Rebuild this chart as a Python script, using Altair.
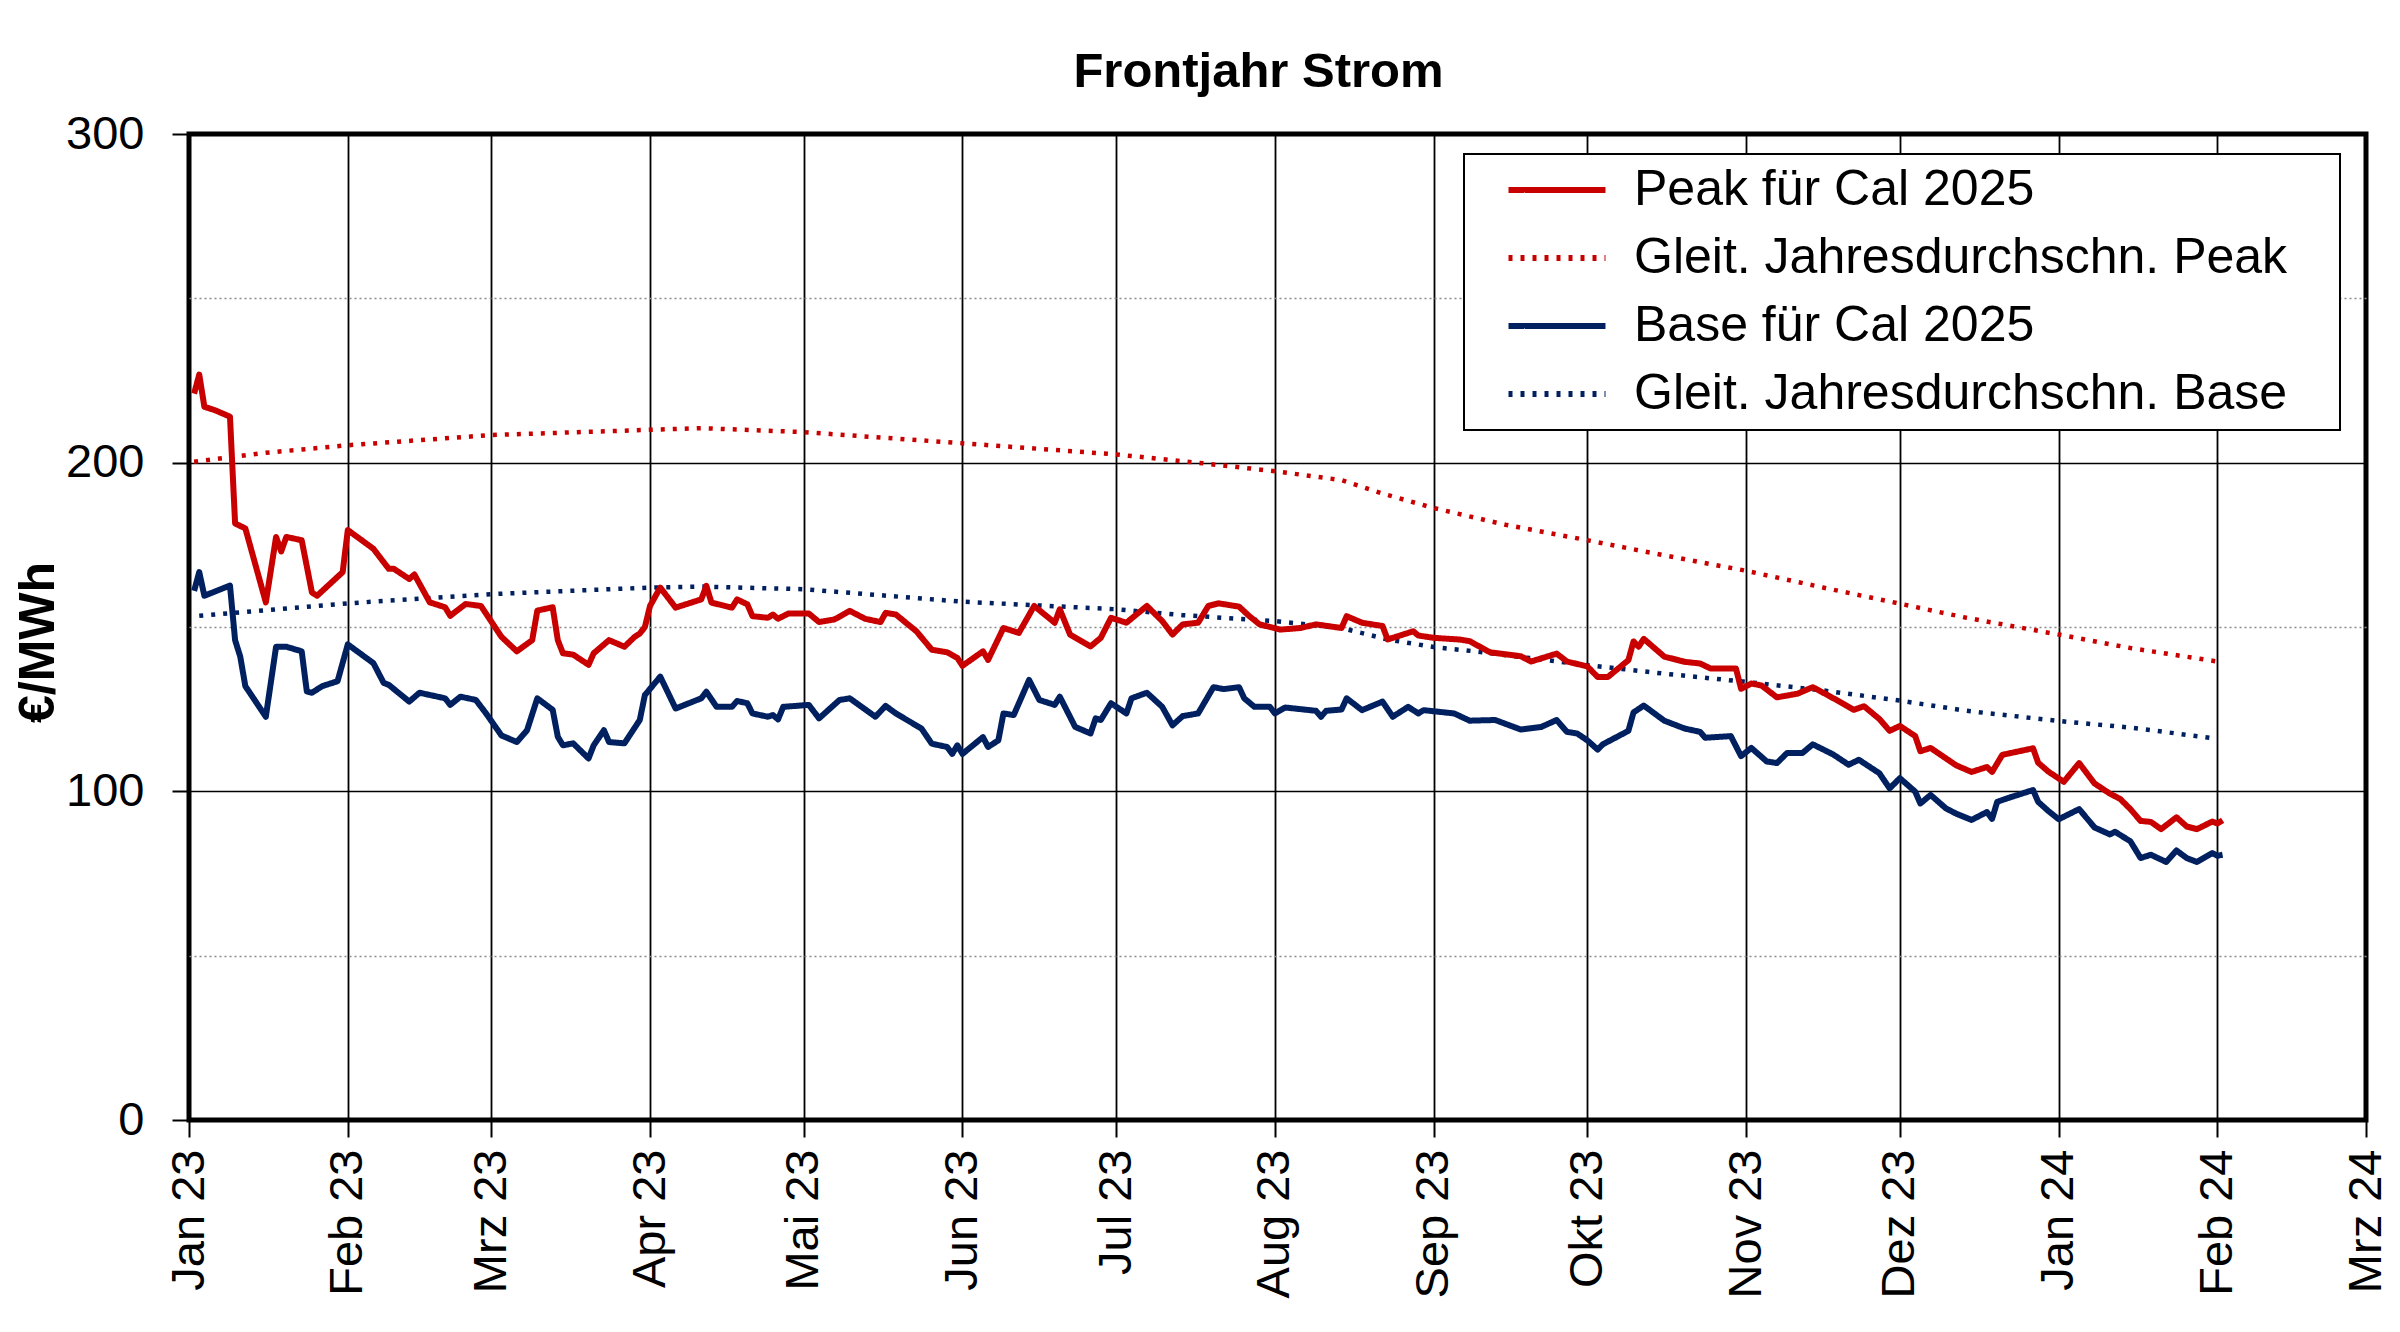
import json
import altair as alt
import pandas as pd

# ---------------- data ----------------
series_names = ["Peak für Cal 2025", "Gleit. Jahresdurchschn. Peak",
                "Base für Cal 2025", "Gleit. Jahresdurchschn. Base"]
series_colors = ["#C80000", "#C80000", "#002060", "#002060"]

month_labels = ["Jan 23", "Feb 23", "Mrz 23", "Apr 23", "Mai 23", "Jun 23", "Jul 23",
                "Aug 23", "Sep 23", "Okt 23", "Nov 23", "Dez 23", "Jan 24", "Feb 24", "Mrz 24"]
tick_years = [2023] * 12 + [2024] * 3
tick_months = list(range(1, 13)) + [1, 2, 3]

peak_dates = ["2023-01-02","2023-01-03","2023-01-04","2023-01-05","2023-01-06","2023-01-09","2023-01-10","2023-01-12",
  "2023-01-16","2023-01-18","2023-01-19","2023-01-20","2023-01-23","2023-01-25","2023-01-26","2023-01-31",
  "2023-02-01","2023-02-06","2023-02-09","2023-02-10","2023-02-13","2023-02-14","2023-02-17","2023-02-20",
  "2023-02-21","2023-02-24","2023-02-27","2023-03-03","2023-03-06","2023-03-09","2023-03-10","2023-03-13",
  "2023-03-14","2023-03-15","2023-03-17","2023-03-20","2023-03-21","2023-03-24","2023-03-27","2023-03-29",
  "2023-03-30","2023-03-31","2023-04-01","2023-04-03","2023-04-06","2023-04-11","2023-04-12","2023-04-13",
  "2023-04-17","2023-04-18","2023-04-20","2023-04-21","2023-04-24","2023-04-25","2023-04-26","2023-04-28",
  "2023-05-02","2023-05-04","2023-05-07","2023-05-10","2023-05-13","2023-05-16","2023-05-17","2023-05-19",
  "2023-05-23","2023-05-26","2023-05-29","2023-05-31","2023-06-01","2023-06-05","2023-06-06","2023-06-09",
  "2023-06-12","2023-06-15","2023-06-19","2023-06-20","2023-06-22","2023-06-26","2023-06-28","2023-06-30",
  "2023-07-03","2023-07-07","2023-07-10","2023-07-12","2023-07-14","2023-07-17","2023-07-19","2023-07-21",
  "2023-07-25","2023-07-27","2023-07-29","2023-08-02","2023-08-06","2023-08-09","2023-08-14","2023-08-15",
  "2023-08-18","2023-08-22","2023-08-23","2023-08-28","2023-08-29","2023-09-01","2023-09-06","2023-09-08",
  "2023-09-12","2023-09-18","2023-09-20","2023-09-25","2023-09-27","2023-10-01","2023-10-03","2023-10-05",
  "2023-10-09","2023-10-10","2023-10-11","2023-10-12","2023-10-16","2023-10-20","2023-10-23","2023-10-25",
  "2023-10-30","2023-10-31","2023-11-02","2023-11-04","2023-11-07","2023-11-11","2023-11-14","2023-11-17",
  "2023-11-20","2023-11-22","2023-11-24","2023-11-27","2023-11-29","2023-12-01","2023-12-04","2023-12-05",
  "2023-12-07","2023-12-12","2023-12-15","2023-12-18","2023-12-19","2023-12-21","2023-12-27","2023-12-28",
  "2023-12-30","2024-01-02","2024-01-05","2024-01-08","2024-01-11","2024-01-13","2024-01-15","2024-01-17",
  "2024-01-19","2024-01-21","2024-01-24","2024-01-26","2024-01-28","2024-01-31","2024-02-01","2024-02-02"]
peak_values = [221,226.8,217,216.5,216,214,181.5,180,
  157.5,177.4,173,177.4,176.4,160.5,159.5,166.7,
  179.5,173.8,167.7,167.7,164.6,166,157.5,156,
  153.4,157,156.4,147,142.6,146,155,156,
  146,142,141.6,138.5,142,146,144,147,
  148,150,156.4,162,155.9,158.4,162.5,157.4,
  155.9,158.4,156.9,153.3,152.8,153.8,152.5,154.1,
  154.1,151.5,152.3,154.9,152.5,151.5,154.3,153.8,
  148.7,143.1,142.3,140.6,138.2,142.6,140,149.7,
  148.2,156.4,151.3,155.4,147.7,144.1,146.7,152.8,
  151.3,156.4,151.8,147.7,150.8,151.3,156.4,157.2,
  156.2,153.3,150.8,149.2,149.7,150.8,149.7,153.3,
  151.3,150.3,146.2,148.7,147.4,146.7,146.2,145.7,
  142.3,141.1,139.5,141.9,139.5,138,134.8,134.8,
  139.9,145.6,144,146.4,141,139.4,138.9,137.4,
  137.4,131.2,132.8,132.2,128.6,129.7,131.7,129.2,
  126.6,124.8,125.9,122,118.4,119.9,116.8,112.2,
  113.2,107.9,105.9,107.4,105.9,111.1,113.1,108.7,
  106,102.9,108.6,102.4,99.3,97.7,94.6,91,
  90.7,88.5,92.1,89.3,88.5,90.8,90.2,91.2]

base_dates = ["2023-01-02","2023-01-03","2023-01-04","2023-01-08","2023-01-09","2023-01-10","2023-01-11","2023-01-12",
  "2023-01-16","2023-01-18","2023-01-20","2023-01-23","2023-01-24","2023-01-25","2023-01-27","2023-01-30",
  "2023-02-01","2023-02-06","2023-02-08","2023-02-09","2023-02-13","2023-02-15","2023-02-20","2023-02-21",
  "2023-02-23","2023-02-26","2023-02-28","2023-03-03","2023-03-06","2023-03-08","2023-03-10","2023-03-13",
  "2023-03-14","2023-03-15","2023-03-17","2023-03-20","2023-03-21","2023-03-23","2023-03-24","2023-03-27",
  "2023-03-30","2023-03-31","2023-04-03","2023-04-06","2023-04-11","2023-04-12","2023-04-14","2023-04-17",
  "2023-04-18","2023-04-20","2023-04-21","2023-04-24","2023-04-25","2023-04-26","2023-04-27","2023-05-02",
  "2023-05-04","2023-05-08","2023-05-10","2023-05-15","2023-05-17","2023-05-19","2023-05-24","2023-05-26",
  "2023-05-29","2023-05-30","2023-05-31","2023-06-01","2023-06-05","2023-06-06","2023-06-08","2023-06-09",
  "2023-06-11","2023-06-14","2023-06-16","2023-06-19","2023-06-20","2023-06-23","2023-06-26","2023-06-27",
  "2023-06-28","2023-06-30","2023-07-03","2023-07-04","2023-07-07","2023-07-10","2023-07-12","2023-07-14",
  "2023-07-17","2023-07-20","2023-07-22","2023-07-25","2023-07-26","2023-07-28","2023-07-31","2023-08-01",
  "2023-08-03","2023-08-09","2023-08-10","2023-08-11","2023-08-14","2023-08-15","2023-08-18","2023-08-22",
  "2023-08-24","2023-08-27","2023-08-29","2023-08-30","2023-09-05","2023-09-08","2023-09-13","2023-09-18",
  "2023-09-22","2023-09-25","2023-09-27","2023-09-29","2023-10-01","2023-10-03","2023-10-04","2023-10-09",
  "2023-10-10","2023-10-12","2023-10-16","2023-10-20","2023-10-23","2023-10-24","2023-10-29","2023-10-31",
  "2023-11-02","2023-11-05","2023-11-07","2023-11-09","2023-11-12","2023-11-14","2023-11-18","2023-11-21",
  "2023-11-23","2023-11-27","2023-11-29","2023-12-01","2023-12-04","2023-12-05","2023-12-07","2023-12-10",
  "2023-12-12","2023-12-15","2023-12-18","2023-12-19","2023-12-20","2023-12-22","2023-12-27","2023-12-28",
  "2023-12-30","2024-01-01","2024-01-05","2024-01-08","2024-01-11","2024-01-12","2024-01-15","2024-01-17",
  "2024-01-19","2024-01-22","2024-01-24","2024-01-26","2024-01-28","2024-01-31","2024-02-01","2024-02-02"]
base_values = [161,166.7,159.5,162,162.6,146,141,132,
  122.7,144,144,142.6,130.4,130,132,133.5,
  144.7,139,133,132.4,127.3,130,128.3,126.3,
  128.8,127.8,123.7,117,115,118.6,128.3,124.8,
  116.6,114,114.6,110,114,118.6,115,114.6,
  121.7,129.3,134.9,125.2,128.3,130.3,125.7,125.7,
  127.5,126.8,123.7,122.7,123.2,121.9,125.7,126.3,
  122.2,127.8,128.3,122.7,126,123.7,119.1,114.5,
  113.5,111.4,114,111.4,116.5,113.5,115.5,123.7,
  123.2,133.9,127.8,126.3,128.8,119.6,117.6,122.2,
  121.7,126.8,123.7,128.3,130,125.7,120.1,122.9,
  123.7,131.7,131.1,131.7,128.3,125.7,125.7,123.7,
  125.5,124.5,122.7,124.5,124.9,128.3,124.7,127.3,
  122.7,125.7,123.7,124.7,123.7,121.5,121.7,118.8,
  119.6,121.7,118.1,117.6,115.5,112.7,114.3,118.4,
  124,126.1,121.5,119.1,118.1,116.3,116.8,110.7,
  113.2,109.1,108.6,111.7,111.7,114.3,111.2,108.1,
  109.6,105.5,100.9,104,99.9,96.3,98.9,94.8,
  93.2,91.3,93.7,91.6,96.8,97.9,100.4,96.8,
  94,91.5,94.6,89,86.9,87.7,84.8,79.7,
  80.7,78.5,82,79.7,78.5,81.2,80.4,80.7]

avg_peak_dates = ["2023-01-02","2023-01-16","2023-02-01","2023-03-01","2023-04-01","2023-04-11","2023-05-01",
  "2023-06-01","2023-07-01","2023-07-18","2023-08-01","2023-08-14","2023-08-22","2023-09-01","2023-09-15",
  "2023-10-01","2023-10-16","2023-11-01","2023-11-16","2023-12-01","2023-12-14","2024-01-01","2024-01-15",
  "2024-02-01"]
avg_peak_values = [200.3,203,205.3,208.4,210,210.5,209.3,
  205.9,202.5,199.8,197.4,194.7,190.6,186.2,181.1,
  176.4,171.8,167.1,162,157.1,152.8,147.7,143.6,
  139.5]

avg_base_dates = ["2023-01-03","2023-02-01","2023-03-01","2023-04-01","2023-04-11","2023-05-01","2023-06-01",
  "2023-07-01","2023-07-14","2023-08-01","2023-08-14","2023-08-23","2023-09-01","2023-09-09","2023-10-01",
  "2023-10-16","2023-11-01","2023-11-16","2023-12-01","2023-12-14","2024-01-01","2024-01-15","2024-02-01"]
avg_base_values = [153.4,157.2,160,162,162.3,161.5,157.7,
  155.4,153.6,151.8,149.7,146.2,143.9,142.6,138.4,
  135.8,133.3,130.7,127.6,124.5,121.4,119.4,116]

# ---------------- table ----------------
frames = []
for name, d, v in [(series_names[0], peak_dates, peak_values),
                   (series_names[1], avg_peak_dates, avg_peak_values),
                   (series_names[2], base_dates, base_values),
                   (series_names[3], avg_base_dates, avg_base_values)]:
    frames.append(pd.DataFrame({"date": d, "value": v, "series": name}))
df = pd.concat(frames, ignore_index=True)

FONT = "Liberation Sans"
is100 = "datum.value % 100 == 0"

x_values = [alt.DateTime(year=y, month=m, date=1, utc=True) for y, m in zip(tick_years, tick_months)]
x_label_expr = json.dumps(month_labels) + "[round((utcyear(datum.value)-2023)*12 + utcmonth(datum.value))]"

legend = alt.Legend(
    title=None, orient="none", legendX=1275, legendY=20, direction="vertical",
    fillColor="white", strokeColor="black", padding=11,
    symbolType="M-3,0H3", symbolSize=1045, symbolStrokeWidth=6,
    symbolOffset=57, labelOffset=52, labelFont=FONT, labelFontSize=50,
    labelColor="black", labelLimit=2000, rowPadding=18,
    labelExpr="datum.label + '\u00a0\u00a0\u00a0\u200b'",
)

base = alt.Chart(df).encode(
    x=alt.X("date:T",
            scale=alt.Scale(type="utc", nice=False,
                            domain=[alt.DateTime(year=2023, month=1, date=1, utc=True),
                                    alt.DateTime(year=2024, month=3, date=1, utc=True)]),
            axis=alt.Axis(values=x_values, labelExpr=x_label_expr, labelAngle=270,
                          tickSize=17, tickWidth=2, labelPadding=12,
                          grid=True, gridColor="black", gridWidth=1.8, title=None)),
    y=alt.Y("value:Q",
            scale=alt.Scale(domain=[0, 300], nice=False),
            axis=alt.Axis(values=[0, 50, 100, 150, 200, 250, 300],
                          labelExpr=is100 + " ? datum.label : ''",
                          tickSize=17, tickWidth=2, labelPadding=28,
                          tickOpacity={"condition": {"test": is100, "value": 1}, "value": 0},
                          grid=True,
                          gridColor={"condition": {"test": is100, "value": "black"}, "value": "#8a8a8a"},
                          gridDash={"condition": {"test": is100, "value": [1, 0]}, "value": [2, 3]},
                          gridWidth=1.6,
                          title="€/MWh", titleFont=FONT, titleFontSize=50, titleFontWeight="bold",
                          titleColor="black", titleAngle=270, titleX=-126, titleY=508,
                          titleAlign="center", titleBaseline="bottom")),
    color=alt.Color("series:N", scale=alt.Scale(domain=series_names, range=series_colors), legend=legend),
    strokeDash=alt.StrokeDash("series:N",
                              scale=alt.Scale(domain=series_names, range=[[1, 0], [4, 8], [1, 0], [4, 8]]),
                              legend=legend),
)

dotted = base.transform_filter(
    alt.FieldOneOfPredicate(field="series", oneOf=[series_names[1], series_names[3]])
).mark_line(strokeWidth=4.5)

solid = base.transform_filter(
    alt.FieldOneOfPredicate(field="series", oneOf=[series_names[0], series_names[2]])
).mark_line(strokeWidth=6, strokeJoin="round")

chart = alt.layer(dotted, solid).properties(
    width=2177, height=986,
    autosize=alt.AutoSizeParams(type="none"),
    padding={"left": 181, "top": 126, "right": 26, "bottom": 190},
    background="white",
    title=alt.TitleParams("Frontjahr Strom", font=FONT, fontSize=49, fontWeight="bold",
                          color="black", frame="group", anchor="middle", offset=46,
                          baseline="alphabetic", dx=-19, dy=72),
).configure_view(
    stroke="black", strokeWidth=5
).configure_axis(
    domain=False, labelFont=FONT, labelFontSize=47, labelColor="black", tickColor="black"
)

# thicker legend border, if the schema accepts it
try:
    _c = chart.configure_legend(strokeWidth=2)
    _c.to_dict()
    chart = _c
except Exception:
    pass

chart.save("out.html", embed_options={"renderer": "svg", "actions": False})
